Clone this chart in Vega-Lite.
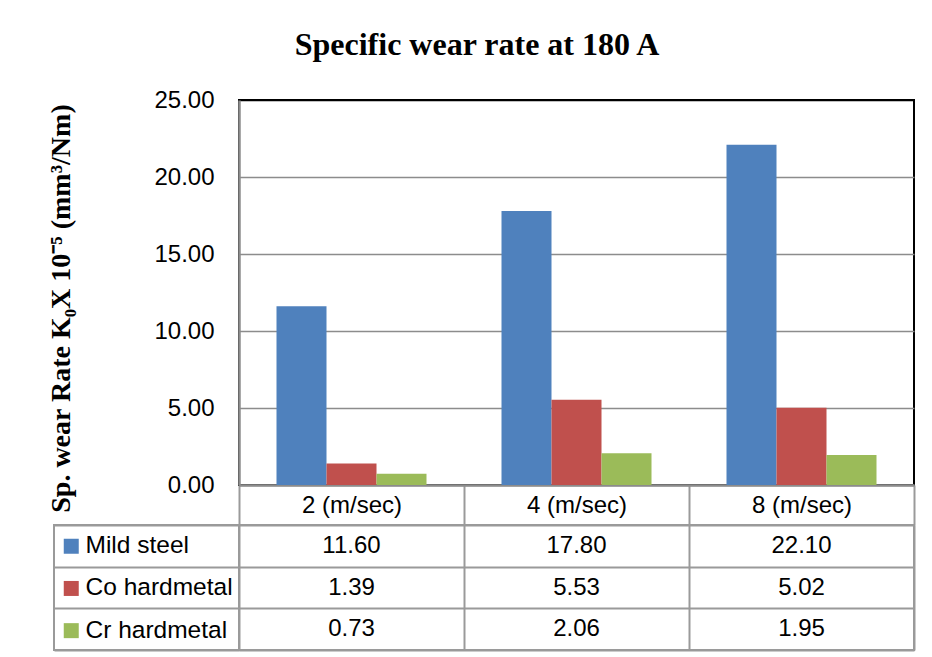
{
  "$schema": "https://vega.github.io/schema/vega-lite/v6.json",
  "background": "white",
  "padding": {"left": 45, "top": 29, "right": 10, "bottom": 5},
  "bounds": "flush",
  "columns": 2,
  "spacing": {"row": 40, "column": 0},
  "title": {"text": "Specific wear rate at 180 A", "font": "Liberation Serif", "fontSize": 32, "fontWeight": "bold", "color": "black", "anchor": "middle", "offset": 25, "dx": -4},
  "datasets": {
    "wear": [
      {"speed": "2 (m/sec)", "material": "Mild steel", "value": 11.60},
      {"speed": "4 (m/sec)", "material": "Mild steel", "value": 17.80},
      {"speed": "8 (m/sec)", "material": "Mild steel", "value": 22.10},
      {"speed": "2 (m/sec)", "material": "Co hardmetal", "value": 1.39},
      {"speed": "4 (m/sec)", "material": "Co hardmetal", "value": 5.53},
      {"speed": "8 (m/sec)", "material": "Co hardmetal", "value": 5.02},
      {"speed": "2 (m/sec)", "material": "Cr hardmetal", "value": 0.73},
      {"speed": "4 (m/sec)", "material": "Cr hardmetal", "value": 2.06},
      {"speed": "8 (m/sec)", "material": "Cr hardmetal", "value": 1.95}
    ]
  },
  "config": {
    "font": "Liberation Sans",
    "view": {"stroke": null},
    "axis": {"labelFont": "Liberation Sans", "labelColor": "black"}
  },
  "resolve": {"scale": {"color": "independent"}, "legend": {"color": "independent"}},
  "concat": [
    {
      "width": 185, "height": 385,
      "data": {"values": []},
      "mark": {"type": "text"},
      "encoding": {}
    },
    {
      "width": 675, "height": 385,
      "data": {"name": "wear"},
      "view": {"stroke": "black", "strokeWidth": 2},
      "mark": {"type": "bar"},
      "encoding": {
        "x": {"field": "speed", "type": "nominal", "sort": ["2 (m/sec)", "4 (m/sec)", "8 (m/sec)"],
          "scale": {"paddingInner": 0, "paddingOuter": 0},
          "axis": {"title": null, "orient": "bottom", "labelAngle": 0, "labelFontSize": 24, "labelBaseline": "middle", "labelPadding": -20,
            "tickBand": "extent", "tickSize": 40, "tickColor": "#9a9a9a", "tickWidth": 2, "domainColor": "#8c8c8c", "domainWidth": 2.5, "grid": false}},
        "xOffset": {"field": "material", "type": "nominal", "sort": ["Mild steel", "Co hardmetal", "Cr hardmetal"],
          "scale": {"paddingInner": 0, "paddingOuter": 0.75}},
        "y": {"field": "value", "type": "quantitative", "scale": {"domain": [0, 25], "nice": false},
          "axis": {"values": [0, 5, 10, 15, 20, 25], "format": ".2f", "labelFontSize": 24, "labelPadding": 25, "ticks": false,
            "grid": true, "gridColor": {"condition": {"test": "datum.value == 25", "value": "black"}, "value": "#8c8c8c"}, "gridWidth": 1.5,
            "domainColor": "#8c8c8c", "domainWidth": 2.5,
            "title": "Sp. wear Rate K₀X 10⁻⁵ (mm³/Nm)", "titleFont": "Liberation Serif", "titleFontSize": 28, "titleFontWeight": "bold", "titleColor": "black",
            "titleX": -170, "titleY": 208, "titleAngle": -90, "titleAlign": "center", "titleBaseline": "alphabetic"}},
        "color": {"field": "material", "type": "nominal", "sort": ["Mild steel", "Co hardmetal", "Cr hardmetal"],
          "scale": {"range": ["#4F81BD", "#C0504D", "#9BBB59"]}, "legend": null}
      }
    },
    {
      "width": 185, "height": 125,
      "data": {"name": "wear"},
      "view": {"stroke": "#9a9a9a", "strokeWidth": 2},
      "mark": {"type": "text", "text": ""},
      "encoding": {
        "y": {"field": "material", "type": "nominal", "sort": ["Mild steel", "Co hardmetal", "Cr hardmetal"],
          "scale": {"paddingInner": 0, "paddingOuter": 0},
          "axis": {"title": null, "labels": false, "ticks": false, "domain": false, "grid": true, "tickBand": "extent", "gridColor": "#9a9a9a", "gridWidth": 2}},
        "color": {"field": "material", "type": "nominal", "sort": ["Mild steel", "Co hardmetal", "Cr hardmetal"],
          "scale": {"range": ["#4F81BD", "#C0504D", "#9BBB59"]},
          "legend": {"orient": "none", "legendX": 5, "legendY": 9, "title": null, "symbolType": "square", "symbolSize": 225, "symbolStrokeWidth": 0,
            "symbolOpacity": 1, "labelFontSize": 24.5, "labelColor": "black", "labelFont": "Liberation Sans", "rowPadding": 17.2, "labelOffset": 2, "padding": 0}}
      }
    },
    {
      "width": 675, "height": 125,
      "data": {"name": "wear"},
      "view": {"stroke": "#9a9a9a", "strokeWidth": 2},
      "mark": {"type": "text", "fontSize": 24, "font": "Liberation Sans", "color": "black"},
      "encoding": {
        "x": {"field": "speed", "type": "nominal", "sort": ["2 (m/sec)", "4 (m/sec)", "8 (m/sec)"],
          "scale": {"paddingInner": 0, "paddingOuter": 0},
          "axis": {"title": null, "labels": false, "ticks": false, "domain": false, "grid": true, "tickBand": "extent", "gridColor": "#9a9a9a", "gridWidth": 2}},
        "y": {"field": "material", "type": "nominal", "sort": ["Mild steel", "Co hardmetal", "Cr hardmetal"],
          "scale": {"paddingInner": 0, "paddingOuter": 0},
          "axis": {"title": null, "labels": false, "ticks": false, "domain": false, "grid": true, "tickBand": "extent", "gridColor": "#9a9a9a", "gridWidth": 2}},
        "text": {"field": "value", "type": "quantitative", "format": ".2f"}
      }
    }
  ]
}
